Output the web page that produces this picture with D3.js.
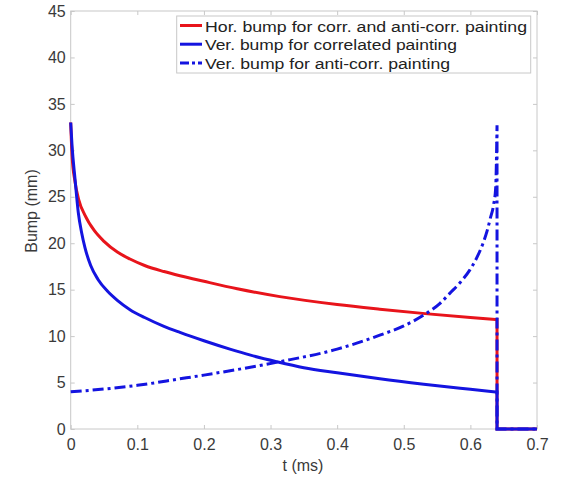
<!DOCTYPE html>
<html>
<head>
<meta charset="utf-8">
<script src="https://cdn.jsdelivr.net/npm/d3@7"></script>
<style>
body { margin:0; background:#fff; }
text { font-family: "Liberation Sans", Arial, sans-serif; }
</style>
</head>
<body>
<script>
// series values
var tRed = [0,0.002,0.0065,0.012,0.0215,0.035,0.05,0.07,0.089,0.111,0.14,0.164,0.2,0.25,0.314,0.4,0.464,0.532,0.6,0.638]
var redVals = [33,29.5,26.6,24.7,23.0,21.4,20.2,19.05,18.3,17.6,16.95,16.5,15.9,15.1,14.25,13.4,12.9,12.42,12.0,11.78]

var tBlue = [0,0.002,0.0065,0.0114,0.0165,0.0215,0.03,0.041,0.055,0.07,0.089,0.111,0.14,0.164,0.2,0.239,0.27,0.309,0.35,0.4,0.464,0.53,0.6,0.638]
var blueVals = [33,30.5,26.9,23.3,21.1,19.5,17.6,16.1,14.85,13.85,12.85,12.0,11.05,10.4,9.5,8.6,7.95,7.25,6.6,6.05,5.4,4.82,4.27,3.98]

var tDash = [0,0.05,0.1,0.164,0.2,0.25,0.314,0.4,0.464,0.5,0.534,0.554,0.569,0.585,0.599,0.61,0.619,0.625,0.63,0.635,0.638,0.64]
var dashVals = [4.0,4.3,4.7,5.4,5.8,6.4,7.25,8.6,10.1,11.1,12.45,13.5,14.6,15.8,17.1,18.5,20.0,21.3,22.7,24.2,26,32.7]

// drop to zero at the end of the painting
var tailT = [0.64,0.64,0.7]
var redTail = [11.78,0,0]
var blueTail = [3.98,0,0]
var dashTail = [32.7,0,0]

var xTicks = [0,0.1,0.2,0.3,0.4,0.5,0.6,0.7]
var yTicks = [0,5,10,15,20,25,30,35,40,45]
var legendLabels = ["Hor. bump for corr. and anti-corr. painting","Ver. bump for correlated painting","Ver. bump for anti-corr. painting"]
var legendWidths = [322,252,245]

var W = 566, H = 481
var pLeft = 70.7, pRight = 537, pTop = 11, pBottom = 429

var svg = d3.select("body").append("svg").attr("width",W).attr("height",H)

var x = d3.scaleLinear().domain([0,0.7]).range([pLeft,pRight])
var y = d3.scaleLinear().domain([0,45]).range([pBottom,pTop])

var axisCol = "#c8c8c8"
var textCol = "#3a3a3a"

// box
svg.append("rect").attr("x",pLeft).attr("y",pTop).attr("width",pRight-pLeft).attr("height",pBottom-pTop)
    .attr("fill","none").attr("stroke",axisCol).attr("stroke-width",1)

function styleAxis(g){
    g.select(".domain").remove()
    g.selectAll(".tick line").attr("stroke",axisCol)
    g.selectAll(".tick text").attr("fill",textCol).style("font-size","16px")
        .style("font-family","'Liberation Sans', Arial, sans-serif")
}

svg.append("g").attr("transform","translate(0,"+pBottom+")")
    .call(d3.axisBottom(x).tickValues(xTicks).tickSizeInner(-4).tickSizeOuter(0).tickPadding(10)
        .tickFormat(function(d){ return d==0 ? "0" : d3.format(".1f")(d) }))
    .call(styleAxis)
svg.append("g").attr("transform","translate(0,"+pTop+")")
    .call(d3.axisTop(x).tickValues(xTicks).tickSizeInner(-4).tickSizeOuter(0).tickFormat(""))
    .call(styleAxis)
svg.append("g").attr("transform","translate("+pLeft+",0)")
    .call(d3.axisLeft(y).tickValues(yTicks).tickSizeInner(-4).tickSizeOuter(0).tickPadding(5))
    .call(styleAxis)
svg.append("g").attr("transform","translate("+pRight+",0)")
    .call(d3.axisRight(y).tickValues(yTicks).tickSizeInner(-4).tickSizeOuter(0).tickFormat(""))
    .call(styleAxis)

// axis labels
svg.append("text").attr("x",303).attr("y",471).attr("text-anchor","middle")
    .attr("fill",textCol).style("font-size","16px").text("t (ms)")
svg.append("text").attr("transform","translate(37,211) rotate(-90)")
    .attr("text-anchor","middle").attr("fill",textCol).style("font-size","16px").text("Bump (mm)")

var curveLine = d3.line().x(function(d){ return x(d[0]) }).y(function(d){ return y(d[1]) }).curve(d3.curveMonotoneX)
var tailLine = d3.line().x(function(d){ return x(d[0]) }).y(function(d){ return y(d[1]) })

function zip(a,b){ return a.map(function(v,i){ return [v,b[i]] }) }

var series = [
    {t:tRed, v:redVals, tail:redTail, color:"#e8141b", dash:null},
    {t:tDash, v:dashVals, tail:dashTail, color:"#1414e0", dash:"11,4,3,4"},
    {t:tBlue, v:blueVals, tail:blueTail, color:"#1414e0", dash:null}
]

series.forEach(function(s){
    var pts = zip(s.t,s.v)
    svg.append("path").attr("d",curveLine(pts)+tailLine(zip(tailT,s.tail)).replace("M","L"))
        .attr("fill","none").attr("stroke",s.color).attr("stroke-width",3)
        .attr("stroke-dasharray",s.dash)
})

// legend
var lg = svg.append("g")
lg.append("rect").attr("x",176.7).attr("y",16).attr("width",354).attr("height",57)
    .attr("fill","#fff").attr("stroke",axisCol)
var legendStyles = [series[0],series[2],series[1]]
legendLabels.forEach(function(lab,i){
    var yy = 25.5 + i*18.7
    lg.append("line").attr("x1",180).attr("x2",202).attr("y1",yy).attr("y2",yy)
        .attr("stroke",legendStyles[i].color).attr("stroke-width",3)
        .attr("stroke-dasharray",legendStyles[i].dash ? "9,3,3,3" : null)
    lg.append("text").attr("x",205).attr("y",yy+6).attr("fill","#222").style("font-size","15.5px")
        .attr("textLength",legendWidths[i]).attr("lengthAdjust","spacingAndGlyphs").text(lab)
})
</script>
</body>
</html>
